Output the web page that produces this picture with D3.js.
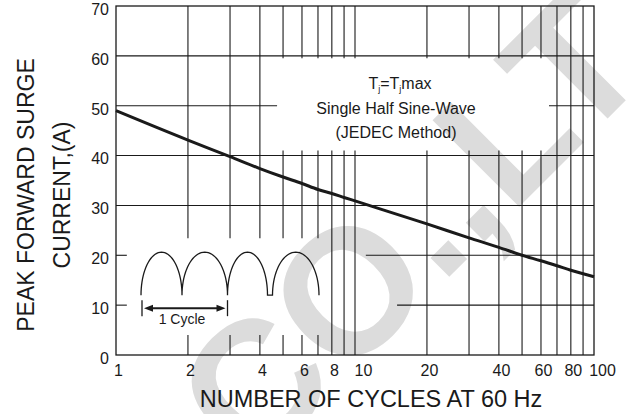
<!DOCTYPE html>
<html><head><meta charset="utf-8">
<script src="https://cdn.jsdelivr.net/npm/d3@7"></script>
<style>body{margin:0;background:#fff}svg{display:block}text{font-family:"Liberation Sans",Arial,sans-serif}</style>
</head><body>
<svg id="c" width="635" height="414"></svg>
<script>
// ---- data ----
const cycles  = [1, 2, 3, 4, 5, 6, 7, 8, 9, 10, 20, 30, 40, 50, 60, 70, 80, 100];
const current = [49.0, 43.1, 39.8, 37.4, 35.7, 34.4, 33.2, 32.4, 31.6, 30.9, 26.3, 23.5, 21.6, 20.0, 18.9, 17.9, 17.0, 15.7];
const xTickLabels = [1, 2, 4, 6, 8, 10, 20, 40, 60, 80, 100];
const yTickValues = [0, 10, 20, 30, 40, 50, 60, 70];
const xGridValues = [2, 3, 4, 5, 6, 7, 8, 9, 10, 20, 30, 40, 50, 60, 70, 80, 90];
const yGridValues = [10, 20, 30, 40, 50, 60];
const noteLines = ["Single Half Sine-Wave", "(JEDEC Method)"];
const xTitle = "NUMBER OF CYCLES AT 60 Hz";
const yTitle = ["PEAK FORWARD SURGE", "CURRENT,(A)"];
const watermark = "CO.,LT";

// ---- layout ----
const svg = d3.select("#c");
const x = d3.scaleLog().domain([1, 100]).range([116, 594]);
const y = d3.scaleLinear().domain([0, 70]).range([355, 6]);
const ink = "#1a1a1a";

// watermark
svg.append("text")
  .attr("transform", "translate(252,474) rotate(-45)")
  .attr("font-size", 178).attr("font-weight", "bold")
  .attr("fill", "#dcdcdc").text(watermark);

// gaps in gridlines (where annotation and inset sit), in data units
const hGaps = {10: [[1.11, 15]], 20: [[1.11, 11.1]], 50: [[4.72, 64.8]]};
function vGaps(v) {
  if (v <= 4) return [[4, 23.4]];
  if (v <= 7) return [[4, 23.4], [41, 59.5]];
  if (v <= 60) return [[41, 59.5]];
  return [];
}
function segs(lo, hi, gaps) {
  const out = []; let s = lo;
  gaps.forEach(g => { out.push([s, g[0]]); s = g[1]; });
  out.push([s, hi]);
  return out;
}
const grid = svg.append("g").attr("stroke", ink).attr("stroke-width", 1.1);
xGridValues.forEach(v => {
  segs(0, 70, vGaps(v)).forEach(s => {
    grid.append("line").attr("x1", x(v)).attr("x2", x(v)).attr("y1", y(s[0])).attr("y2", y(s[1]));
  });
});
yGridValues.forEach(v => {
  segs(1, 100, hGaps[v] || []).forEach(s => {
    grid.append("line").attr("x1", x(s[0])).attr("x2", x(s[1])).attr("y1", y(v)).attr("y2", y(v));
  });
});
// frame
svg.append("rect").attr("x", x(1)).attr("y", y(70)).attr("width", x(100) - x(1)).attr("height", y(0) - y(70))
  .attr("fill", "none").attr("stroke", ink).attr("stroke-width", 1.3);

// curve
svg.append("path")
  .datum(cycles.map((c, i) => [c, current[i]]))
  .attr("fill", "none").attr("stroke", ink).attr("stroke-width", 3)
  .attr("d", d3.line().x(d => x(d[0])).y(d => y(d[1])).curve(d3.curveMonotoneX));

// axes labels
const yAxis = d3.axisLeft(y).tickValues(yTickValues).tickSize(0).tickPadding(7);
const ya = svg.append("g").attr("transform", `translate(${x(1)},0)`).call(yAxis);
ya.select(".domain").remove();
ya.selectAll("text").attr("font-size", 16).attr("fill", ink).attr("dy", "0.52em")
  .attr("font-family", '"Liberation Sans",Arial,sans-serif');

const xAxis = d3.axisBottom(x).tickValues(xTickLabels).tickFormat(d3.format("d")).tickSize(0).tickPadding(10);
const xa = svg.append("g").attr("transform", `translate(0,${y(0)})`).call(xAxis);
xa.select(".domain").remove();
xa.selectAll("text").attr("font-size", 16).attr("fill", ink)
  .attr("font-family", '"Liberation Sans",Arial,sans-serif')
  .attr("dx", d => (d === 10 || d === 100) ? 8 : 2);

svg.append("text").attr("x", 371).attr("y", 407).attr("text-anchor", "middle")
  .attr("font-size", 23.5).attr("fill", ink).text(xTitle);

yTitle.forEach((t, i) => {
  svg.append("text").attr("transform", `translate(${34 + i * 36},195) rotate(-90)`)
    .attr("text-anchor", "middle").attr("font-size", 23).attr("fill", ink).text(t);
});

// annotation
const note = svg.append("g").attr("fill", ink).attr("text-anchor", "middle").attr("font-size", 16);
const t1 = note.append("text").attr("x", 400).attr("y", 89);
t1.append("tspan").text("T");
t1.append("tspan").attr("font-size", 9).attr("dy", 3).text("j");
t1.append("tspan").attr("dy", -3).text("=T");
t1.append("tspan").attr("font-size", 9).attr("dy", 3).text("j");
t1.append("tspan").attr("dy", -3).text("max");
noteLines.forEach((t, i) => note.append("text").attr("x", 396).attr("y", 114 + i * 24).text(t));

// inset: rectified sine sketch
const ix = x(1) + 25, iy = y(12);
const humps = [[0, 41], [41, 86.5], [86.5, 126.5], [131.5, 178]];
const hh = 43;
let p = d3.path();
humps.forEach((h, i) => {
  const rx = (h[1] - h[0]) / 2;
  if (i === 0) p.moveTo(ix + h[0], iy);
  else p.lineTo(ix + h[0], iy);
  const steps = 40;
  for (let k = 0; k <= steps; k++) {
    const a = Math.PI - Math.PI * k / steps;
    p.lineTo(ix + h[0] + rx + rx * Math.cos(a), iy - hh * Math.sin(a));
  }
});
svg.append("path").attr("d", p.toString()).attr("fill", "none").attr("stroke", ink).attr("stroke-width", 1.3);

const ay = iy + 13;
const ins = svg.append("g").attr("stroke", ink).attr("stroke-width", 1.3);
ins.append("line").attr("x1", ix + 1).attr("x2", ix + 1).attr("y1", ay - 8).attr("y2", ay + 8);
ins.append("line").attr("x1", ix + 86.5).attr("x2", ix + 86.5).attr("y1", ay - 8).attr("y2", ay + 8);
ins.append("line").attr("x1", ix + 8).attr("x2", ix + 80).attr("y1", ay).attr("y2", ay).attr("stroke-width", 2);
svg.append("path").attr("fill", ink)
  .attr("d", `M${ix + 3},${ay} l9,-3.5 l0,7 Z M${ix + 84.5},${ay} l-9,-3.5 l0,7 Z`);
svg.append("text").attr("x", ix + 41).attr("y", ay + 16).attr("text-anchor", "middle")
  .attr("font-size", 14).attr("fill", ink).text("1 Cycle");
</script>
</body></html>
